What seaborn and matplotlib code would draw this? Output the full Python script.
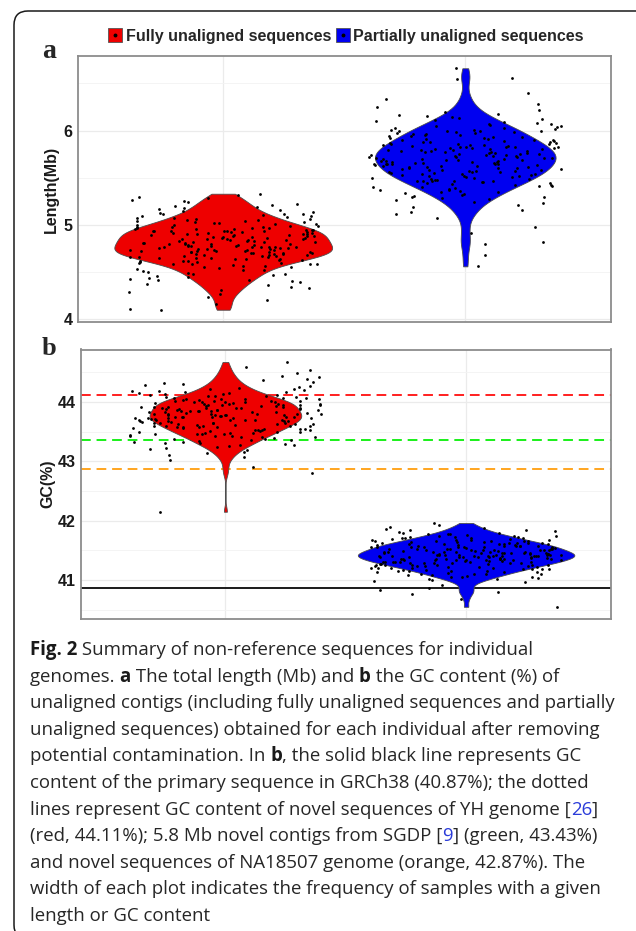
import numpy as np
import pandas as pd
import matplotlib
matplotlib.use("Agg")
import matplotlib.pyplot as plt
import seaborn as sns
from matplotlib.patches import Patch, FancyBboxPatch
from matplotlib.lines import Line2D

# ============================================
# DATA
# ============================================
groups = ["Fully unaligned sequences", "Partially unaligned sequences"]
group_colors = ["#ee0000", "#0000f0"]

# panel a : total length (Mb) per individual
len_full = [
    4.10, 4.11, 4.16, 4.20, 4.24, 4.27, 4.29, 4.31, 4.33, 4.34, 4.36, 4.37, 4.39, 4.40,
    4.41, 4.42, 4.43, 4.44, 4.45, 4.46, 4.47, 4.48, 4.48, 4.49, 4.50,
    4.51, 4.52, 4.52, 4.53, 4.54, 4.55, 4.55, 4.56, 4.56, 4.57, 4.58, 4.58, 4.59, 4.59, 4.60,
    4.60, 4.61, 4.61, 4.62, 4.62, 4.62, 4.63, 4.63, 4.64, 4.64, 4.64, 4.65, 4.65,
    4.65, 4.66, 4.66, 4.66, 4.67, 4.67, 4.67, 4.68, 4.68, 4.68, 4.69, 4.69, 4.69, 4.70, 4.70, 4.70,
    4.70, 4.71, 4.71, 4.71, 4.71, 4.72, 4.72, 4.72, 4.72, 4.73, 4.73, 4.73, 4.73, 4.74, 4.74, 4.74, 4.75, 4.75,
    4.75, 4.76, 4.76, 4.76, 4.77, 4.77, 4.77, 4.78, 4.78, 4.78, 4.78, 4.79, 4.79, 4.79, 4.80, 4.80, 4.80,
    4.80, 4.81, 4.81, 4.81, 4.82, 4.82, 4.82, 4.83, 4.83, 4.83, 4.84, 4.84, 4.84, 4.85, 4.85, 4.85, 4.85,
    4.86, 4.86, 4.86, 4.87, 4.87, 4.87, 4.88, 4.88, 4.88, 4.89, 4.89, 4.89, 4.90, 4.90, 4.90, 4.90,
    4.91, 4.91, 4.91, 4.92, 4.92, 4.92, 4.93, 4.93, 4.93, 4.94, 4.94, 4.94, 4.95, 4.95, 4.95,
    4.96, 4.96, 4.96, 4.97, 4.97, 4.97, 4.98, 4.98, 4.98, 4.99, 4.99, 5.00, 5.00,
    5.01, 5.01, 5.02, 5.02, 5.03, 5.03, 5.04, 5.04, 5.05, 5.05,
    5.06, 5.06, 5.07, 5.07, 5.08, 5.09, 5.09, 5.10, 5.11, 5.12, 5.12, 5.13, 5.14, 5.15,
    5.16, 5.17, 5.18, 5.19, 5.20, 5.21, 5.22, 5.24, 5.25, 5.26, 5.28, 5.30, 5.32, 5.33,
]
len_part = [
    4.56, 4.68, 4.80, 4.82, 4.91, 4.98, 5.07, 5.11, 5.14, 5.16, 5.19, 5.21, 5.23, 5.24,
    5.26, 5.27, 5.28, 5.29, 5.30, 5.31, 5.32, 5.33, 5.34, 5.35,
    5.35, 5.36, 5.37, 5.37, 5.38, 5.39, 5.40, 5.40, 5.41, 5.41, 5.42, 5.42, 5.43, 5.44, 5.44, 5.45,
    5.45, 5.46, 5.46, 5.47, 5.47, 5.47, 5.48, 5.48, 5.49, 5.49, 5.50,
    5.50, 5.51, 5.51, 5.52, 5.52, 5.52, 5.53, 5.53, 5.54, 5.54, 5.54, 5.55,
    5.55, 5.56, 5.56, 5.56, 5.57, 5.57, 5.57, 5.58, 5.58, 5.58, 5.59, 5.59, 5.60,
    5.60, 5.60, 5.61, 5.61, 5.61, 5.62, 5.62, 5.62, 5.63, 5.63, 5.64, 5.64, 5.64, 5.65,
    5.65, 5.65, 5.66, 5.66, 5.66, 5.67, 5.67, 5.67, 5.68, 5.68, 5.68, 5.69, 5.69, 5.69, 5.70,
    5.70, 5.70, 5.71, 5.71, 5.71, 5.72, 5.72, 5.72, 5.73, 5.73, 5.73, 5.74, 5.74, 5.74, 5.75,
    5.75, 5.75, 5.76, 5.76, 5.76, 5.77, 5.77, 5.77, 5.78, 5.78, 5.78, 5.79, 5.79, 5.79, 5.80,
    5.80, 5.80, 5.81, 5.81, 5.81, 5.82, 5.82, 5.83, 5.83, 5.83, 5.84, 5.84, 5.85, 5.85,
    5.85, 5.86, 5.86, 5.86, 5.87, 5.87, 5.88, 5.88, 5.88, 5.89, 5.89, 5.90, 5.90,
    5.90, 5.91, 5.91, 5.92, 5.92, 5.93, 5.93, 5.94, 5.94, 5.95, 5.95,
    5.96, 5.96, 5.97, 5.97, 5.98, 5.98, 5.99, 5.99, 6.00, 6.00,
    6.01, 6.01, 6.02, 6.03, 6.03, 6.04, 6.05, 6.05, 6.06, 6.07, 6.07, 6.08, 6.09, 6.10,
    6.11, 6.12, 6.13, 6.14, 6.15, 6.16, 6.18, 6.20, 6.22, 6.25, 6.28, 6.33,
    6.40, 6.55, 6.56, 6.66,
]

# panel b : GC content (%) per individual
gc_full = [
    42.15, 42.80, 42.90, 43.02, 43.07, 43.11, 43.14, 43.16, 43.19, 43.21, 43.23, 43.24,
    43.26, 43.27, 43.28, 43.29, 43.30, 43.31, 43.32, 43.33, 43.34,
    43.35, 43.36, 43.37, 43.38, 43.39, 43.40, 43.40, 43.41, 43.42, 43.42, 43.43, 43.44, 43.45,
    43.45, 43.46, 43.46, 43.47, 43.48, 43.48, 43.49, 43.50,
    43.50, 43.51, 43.51, 43.52, 43.52, 43.53, 43.53, 43.54, 43.55,
    43.55, 43.56, 43.56, 43.57, 43.57, 43.58, 43.58, 43.59, 43.59, 43.60,
    43.60, 43.60, 43.61, 43.61, 43.62, 43.62, 43.63, 43.63, 43.64, 43.64, 43.65, 43.65,
    43.65, 43.66, 43.66, 43.67, 43.67, 43.68, 43.68, 43.69, 43.69, 43.70, 43.70, 43.70,
    43.70, 43.71, 43.71, 43.72, 43.72, 43.72, 43.73, 43.73, 43.74, 43.74, 43.74, 43.75, 43.75,
    43.75, 43.76, 43.76, 43.77, 43.77, 43.77, 43.78, 43.78, 43.79, 43.79, 43.79, 43.80, 43.80,
    43.80, 43.81, 43.81, 43.82, 43.82, 43.83, 43.83, 43.84, 43.84, 43.85, 43.85, 43.85,
    43.86, 43.86, 43.87, 43.87, 43.88, 43.88, 43.88, 43.89, 43.89, 43.90, 43.90, 43.90,
    43.91, 43.91, 43.92, 43.92, 43.93, 43.93, 43.93, 43.94, 43.94, 43.95, 43.95, 43.95,
    43.96, 43.96, 43.97, 43.97, 43.98, 43.98, 43.99, 43.99, 44.00, 44.00, 44.00,
    44.01, 44.01, 44.02, 44.02, 44.03, 44.03, 44.04, 44.04, 44.05, 44.05,
    44.06, 44.06, 44.07, 44.08, 44.08, 44.09, 44.09, 44.10,
    44.11, 44.12, 44.13, 44.13, 44.14, 44.15, 44.16, 44.17, 44.18, 44.19, 44.20,
    44.21, 44.22, 44.24, 44.25, 44.26, 44.28, 44.30, 44.31, 44.34, 44.36, 44.39,
    44.41, 44.44, 44.48, 44.53, 44.58, 44.67,
]
gc_part = [
    40.55, 40.68, 40.76, 40.80, 40.83, 40.86, 40.92, 40.96, 40.98, 41.00,
    41.01, 41.02, 41.04, 41.05, 41.05, 41.06, 41.07, 41.08, 41.09, 41.10,
    41.10, 41.11, 41.11, 41.12, 41.13, 41.13, 41.14, 41.15,
    41.15, 41.16, 41.16, 41.17, 41.17, 41.18, 41.18, 41.19, 41.19, 41.20,
    41.20, 41.20, 41.21, 41.21, 41.22, 41.22, 41.22, 41.23, 41.23, 41.24, 41.24, 41.25, 41.25,
    41.25, 41.26, 41.26, 41.26, 41.27, 41.27, 41.27, 41.28, 41.28, 41.28, 41.29, 41.29, 41.29, 41.30, 41.30,
    41.30, 41.30, 41.31, 41.31, 41.31, 41.32, 41.32, 41.32, 41.33, 41.33, 41.33, 41.33,
    41.34, 41.34, 41.34, 41.35, 41.35, 41.35,
    41.35, 41.36, 41.36, 41.36, 41.36, 41.37, 41.37, 41.37, 41.38, 41.38, 41.38, 41.38,
    41.39, 41.39, 41.39, 41.40, 41.40, 41.40, 41.40,
    41.40, 41.41, 41.41, 41.41, 41.41, 41.42, 41.42, 41.42, 41.42, 41.43, 41.43, 41.43, 41.43,
    41.44, 41.44, 41.44, 41.44, 41.45, 41.45, 41.45,
    41.45, 41.46, 41.46, 41.46, 41.46, 41.47, 41.47, 41.47, 41.48, 41.48, 41.48, 41.48,
    41.49, 41.49, 41.49, 41.50, 41.50, 41.50, 41.50,
    41.51, 41.51, 41.51, 41.52, 41.52, 41.52, 41.53, 41.53, 41.53, 41.54, 41.54, 41.54,
    41.55, 41.55, 41.55, 41.55, 41.55,
    41.56, 41.56, 41.56, 41.57, 41.57, 41.57, 41.58, 41.58, 41.58, 41.59, 41.59, 41.59, 41.60, 41.60, 41.60,
    41.61, 41.61, 41.62, 41.62, 41.62, 41.63, 41.63, 41.64, 41.64, 41.64, 41.65, 41.65, 41.65,
    41.66, 41.66, 41.67, 41.67, 41.68, 41.68, 41.69, 41.69, 41.70, 41.70,
    41.71, 41.71, 41.72, 41.73, 41.73, 41.74, 41.74, 41.75,
    41.76, 41.77, 41.77, 41.78, 41.79, 41.80, 41.81, 41.82, 41.84, 41.85,
    41.86, 41.88, 41.90, 41.93, 41.96,
]

# reference GC lines in panel b
ref_gc = [44.11, 43.35, 42.87]
ref_colors = ["#ff1f1f", "#19f019", "#ffa51f"]
grch38_gc = 40.87

len_ticks = [4, 5, 6]
len_minor = [4.5, 5.5, 6.5]
gc_ticks = [41, 42, 43, 44]
gc_minor = [40.5, 41.5, 42.5, 43.5, 44.5]

caption_lines = [
    [("Fig. 2", "b"), (" Summary of non-reference sequences for individual", "n")],
    [("genomes. ", "n"), ("a", "b"), (" The total length (Mb) and ", "n"), ("b", "b"),
     (" the GC content (%) of", "n")],
    [("unaligned contigs (including fully unaligned sequences and partially", "n")],
    [("unaligned sequences) obtained for each individual after removing", "n")],
    [("potential contamination. In ", "n"), ("b", "b"), (", the solid black line represents GC", "n")],
    [("content of the primary sequence in GRCh38 (40.87%); the dotted", "n")],
    [("lines represent GC content of novel sequences of YH genome [", "n"), ("26", "link"), ("]", "n")],
    [("(red, 44.11%); 5.8 Mb novel contigs from SGDP [", "n"), ("9", "link"), ("] (green, 43.43%)", "n")],
    [("and novel sequences of NA18507 genome (orange, 42.87%). The", "n")],
    [("width of each plot indicates the frequency of samples with a given", "n")],
    [("length or GC content", "n")],
]

# ============================================
# FIGURE SETUP
# ============================================
sns.set_style("white")
plt.rcParams["font.family"] = ["Liberation Sans", "DejaVu Sans"]

W, H = 636, 931
fig = plt.figure(figsize=(W / 100, H / 100), dpi=100)


def px_box(left, top, right, bottom):
    return [left / W, 1 - bottom / H, (right - left) / W, (bottom - top) / H]


ax_a = fig.add_axes(px_box(78, 56, 610.5, 322))
ax_b = fig.add_axes(px_box(81, 349.5, 610.5, 619))


def long_df(a, b):
    return pd.DataFrame({
        "group": [groups[0]] * len(a) + [groups[1]] * len(b),
        "value": a + b,
    })


np.random.seed(11)


def draw_panel(ax, df, ylim, ticks, minor):
    sns.violinplot(data=df, x="group", y="value", hue="group", order=groups,
                   hue_order=groups, palette=group_colors, saturation=1, cut=0,
                   inner=None, width=0.9, density_norm="area", common_norm=True,
                   bw_adjust=0.7, linewidth=0.6, linecolor="#4d4d4d", legend=False,
                   ax=ax, zorder=2)
    sns.stripplot(data=df, x="group", y="value", order=groups, color="black",
                  size=2.0, jitter=0.4, linewidth=0, ax=ax, zorder=3)
    ax.set_xlim(-0.6, 1.6)
    ax.set_ylim(*ylim)
    ax.set_xlabel("")
    ax.set_ylabel("")
    ax.set_xticks([0, 1])
    ax.set_xticklabels([])
    ax.set_yticks(ticks)
    ax.set_yticks(minor, minor=True)
    ax.set_yticklabels([str(t) for t in ticks])
    ax.set_axisbelow(True)
    ax.grid(True, which="major", color="#ebebeb", lw=0.9)
    ax.grid(True, which="minor", axis="y", color="#f3f3f3", lw=0.6)
    ax.tick_params(axis="both", which="major", length=2.5, width=0.8, color="#8c8c8c",
                   pad=1.5, labelsize=11.5, labelcolor="#1a1a1a")
    ax.tick_params(which="minor", length=0)
    for lab in ax.get_yticklabels():
        lab.set_fontweight("bold")
    for sp in ax.spines.values():
        sp.set_color("#8c8c8c")
        sp.set_linewidth(1.3)


draw_panel(ax_a, long_df(len_full, len_part), (3.97, 6.79), len_ticks, len_minor)
draw_panel(ax_b, long_df(gc_full, gc_part), (40.345, 44.88), gc_ticks, gc_minor)

for val, col in zip(ref_gc, ref_colors):
    ax_b.axhline(val, color=col, lw=1.4, ls=(0, (5, 3)), zorder=1.5)
ax_b.axhline(grch38_gc, color="#1a1a1a", lw=1.4, zorder=1.5)

# axis titles and panel letters
fig.text(51 / W, 1 - 189 / H, "Length(Mb)", rotation=90, ha="center", va="center",
         fontsize=11.5, fontweight="bold", color="#1a1a1a")
fig.text(48 / W, 1 - 484 / H, "GC(%)", rotation=90, ha="center", va="center",
         fontsize=11.5, fontweight="bold", color="#1a1a1a")
fig.text(42 / W, 1 - 58 / H, "a", family=["Liberation Serif"], fontweight="bold",
         fontsize=20, va="baseline")
fig.text(42 / W, 1 - 355 / H, "b", family=["Liberation Serif"], fontweight="bold",
         fontsize=19, va="baseline")

# legend : violin fill with a jitter point
handles = [
    (Patch(facecolor=c, edgecolor="#555555", lw=0.6),
     Line2D([], [], marker="o", color="black", markersize=1.8, linestyle="none"))
    for c in group_colors
]
fig.legend(handles, groups, loc="center", bbox_to_anchor=(346 / W, 1 - 36 / H), ncol=2,
           frameon=False, prop={"weight": "bold", "size": 11.5}, handlelength=0.9,
           handleheight=0.9, handletextpad=0.2, columnspacing=0.3, borderpad=0)

# ============================================
# CAPTION
# ============================================
renderer = fig.canvas.get_renderer()
cap_size = 13.4
cap_styles = {
    "n": dict(family=["Open Sans", "DejaVu Sans"], fontsize=cap_size, color="#262626"),
    "b": dict(family=["Open Sans", "DejaVu Sans"], fontsize=cap_size, color="#1a1a1a",
              fontweight="bold"),
    "link": dict(family=["Open Sans", "DejaVu Sans"], fontsize=cap_size, color="#2a3bd9"),
}


def text_width(s, kw):
    t = fig.text(0, 0, "|" + s + "|", **kw)
    w = t.get_window_extent(renderer).width
    t.remove()
    t = fig.text(0, 0, "||", **kw)
    w0 = t.get_window_extent(renderer).width
    t.remove()
    return w - w0


for i, line in enumerate(caption_lines):
    y = 655 + i * 26.6
    x = 30.0
    for txt, style in line:
        kw = cap_styles[style]
        fig.text(x / W, 1 - y / H, txt, va="baseline", ha="left", **kw)
        x += text_width(txt, kw)

# rounded frame around the whole figure (right and bottom sides run off the image)
frame = FancyBboxPatch((0.14, -0.08), 6.40, 9.28,
                       boxstyle="round,pad=0,rounding_size=0.14",
                       transform=fig.dpi_scale_trans, facecolor="none",
                       edgecolor="#1a1a1a", lw=1.1, clip_on=False)
fig.add_artist(frame)

fig.savefig("out.png", dpi=100)
